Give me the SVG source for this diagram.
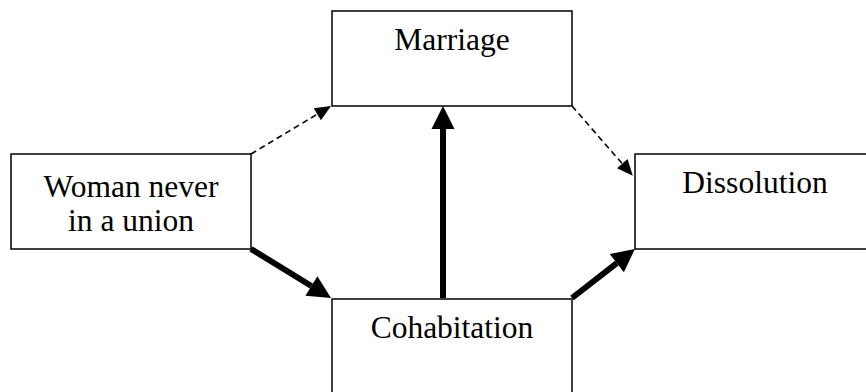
<svg xmlns="http://www.w3.org/2000/svg" width="866" height="392" viewBox="0 0 866 392">
<style>
.box{fill:#fff;stroke:#000;stroke-width:1.5}
.lbl{font-size:31.5px;fill:#000;text-anchor:middle}
.thick{stroke:#000;stroke-width:6;fill:none;marker-end:url(#big)}
.dash{stroke:#000;stroke-width:1.6;fill:none;stroke-dasharray:6 4;marker-end:url(#small)}
</style>
<defs>
<marker id="big" markerUnits="userSpaceOnUse" markerWidth="24" markerHeight="24" viewBox="0 -12 24 24" refX="0" refY="0" orient="auto" overflow="visible">
<path d="M0,-11.5 L23,0 L0,11.5 Z" fill="#000"/>
</marker>
<marker id="small" markerUnits="userSpaceOnUse" markerWidth="16" markerHeight="16" viewBox="0 -8 16 16" refX="0" refY="0" orient="auto" overflow="visible">
<path d="M0,-7 L16,0 L0,7 Z" fill="#000"/>
</marker>
</defs>
<rect width="866" height="392" fill="#fff"/>
<g font-family="'Liberation Serif', 'Times New Roman', 'DejaVu Serif', serif">
<g id="woman">
<rect class="box" x="11" y="154" width="240" height="95"/>
<text class="lbl" x="131" y="197">Woman never</text>
<text class="lbl" x="131" y="231">in a union</text>
</g>
<g id="marriage">
<rect class="box" x="332" y="11" width="240" height="95"/>
<text class="lbl" x="452" y="50">Marriage</text>
</g>
<g id="dissolution">
<rect class="box" x="635" y="154" width="240" height="95"/>
<text class="lbl" x="755" y="193">Dissolution</text>
</g>
<g id="cohabitation">
<rect class="box" x="332" y="299" width="240" height="95"/>
<text class="lbl" x="452" y="338">Cohabitation</text>
</g>
</g>
<g id="connectors">
<line class="dash" x1="251" y1="154" x2="317.3" y2="114.2"/>
<line class="dash" x1="572" y1="106" x2="622.3" y2="163.7"/>
<line class="thick" x1="251" y1="249" x2="311.4" y2="286"/>
<line class="thick" x1="572" y1="298" x2="616.8" y2="263.1"/>
<line class="thick" x1="443" y1="298" x2="443" y2="129"/>
</g>
</svg>
